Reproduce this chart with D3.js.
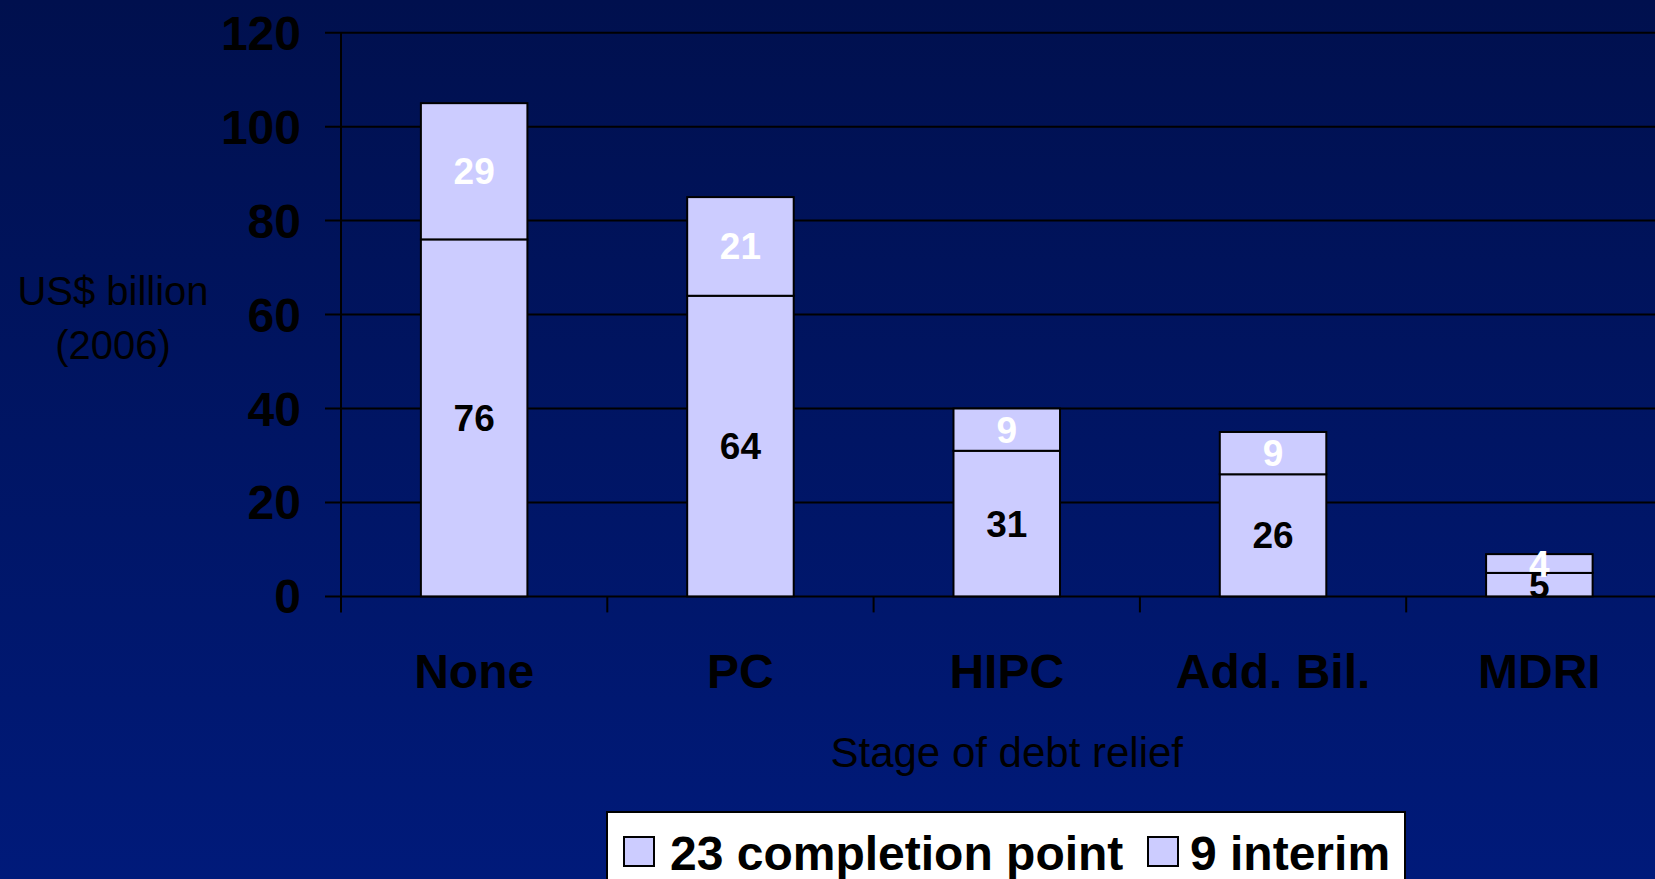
<!DOCTYPE html>
<html>
<head>
<meta charset="utf-8">
<script src="https://cdn.jsdelivr.net/npm/d3@7"></script>
<style>
  html, body { margin: 0; padding: 0; background: #001262; }
  svg { display: block; }
  text { font-family: "Liberation Sans", Arial, Helvetica, sans-serif; }
</style>
</head>
<body>
<svg id="chart" width="1655" height="879"></svg>
<script>
// Debt stock by stage of debt relief (US$ billion, 2006)
const categories = ["None", "PC", "HIPC", "Add. Bil.", "MDRI"];
const completionValues = [76, 64, 31, 26, 5];   // 23 completion point countries
const interimValues = [29, 21, 9, 9, 4];        // 9 interim countries
const yTicks = [0, 20, 40, 60, 80, 100, 120];
const seriesNames = ["23 completion point", "9 interim"];

const W = 1655, H = 879;
const svg = d3.select("#chart");

// background gradient
const defs = svg.append("defs");
const grad = defs.append("linearGradient")
  .attr("id", "bg").attr("x1", 0).attr("y1", 0).attr("x2", 0).attr("y2", 1);
grad.append("stop").attr("offset", "0%").attr("stop-color", "#00104e");
grad.append("stop").attr("offset", "100%").attr("stop-color", "#001a7a");
svg.append("rect").attr("width", W).attr("height", H).attr("fill", "url(#bg)");

const plotLeft = 341, plotRight = 1672.5, plotTop = 32.7, plotBottom = 596.4;

const x = d3.scaleBand()
  .domain(categories)
  .range([plotLeft, plotRight])
  .paddingInner(0.6)
  .paddingOuter(0.3);

const y = d3.scaleLinear()
  .domain([0, 120])
  .range([plotBottom, plotTop]);

const ink = "#000";

// horizontal gridlines with left tick marks
svg.append("g").selectAll("line")
  .data(yTicks)
  .join("line")
  .attr("x1", plotLeft - 16).attr("x2", W)
  .attr("y1", d => y(d)).attr("y2", d => y(d))
  .attr("stroke", ink).attr("stroke-width", 2);

// y tick labels
svg.append("g").selectAll("text")
  .data(yTicks)
  .join("text")
  .attr("x", 301)
  .attr("y", d => y(d) + 17)
  .attr("text-anchor", "end")
  .attr("font-size", 48)
  .attr("font-weight", "bold")
  .attr("fill", ink)
  .text(d => d);

// vertical axis line
svg.append("line")
  .attr("x1", plotLeft).attr("x2", plotLeft)
  .attr("y1", plotTop).attr("y2", plotBottom + 16)
  .attr("stroke", ink).attr("stroke-width", 2);

// category boundary ticks on the x axis
const step = x.step();
svg.append("g").selectAll("line")
  .data(d3.range(1, categories.length))
  .join("line")
  .attr("x1", i => plotLeft + i * step).attr("x2", i => plotLeft + i * step)
  .attr("y1", plotBottom).attr("y2", plotBottom + 16)
  .attr("stroke", ink).attr("stroke-width", 2);

// stacked bars
const rows = categories.map((c, i) => ({ cat: c, completion: completionValues[i], interim: interimValues[i] }));
const stack = d3.stack().keys(["completion", "interim"])(rows);
const barFill = "#ccccff";

const layers = svg.append("g").selectAll("g")
  .data(stack)
  .join("g");

layers.selectAll("rect")
  .data(d => d)
  .join("rect")
  .attr("x", d => x(d.data.cat))
  .attr("width", x.bandwidth())
  .attr("y", d => y(d[1]))
  .attr("height", d => y(d[0]) - y(d[1]))
  .attr("fill", barFill)
  .attr("stroke", ink)
  .attr("stroke-width", 2);

// value labels centred in each segment
const labelColors = ["#000000", "#ffffff"];
stack.forEach((layer, li) => {
  svg.append("g").selectAll("text")
    .data(layer)
    .join("text")
    .attr("x", d => x(d.data.cat) + x.bandwidth() / 2)
    .attr("y", d => y((d[0] + d[1]) / 2) + 13)
    .attr("text-anchor", "middle")
    .attr("font-size", 37)
    .attr("font-weight", "bold")
    .attr("fill", labelColors[li])
    .text(d => d[1] - d[0]);
});

// category labels
svg.append("g").selectAll("text")
  .data(categories)
  .join("text")
  .attr("x", d => x(d) + x.bandwidth() / 2)
  .attr("y", 688)
  .attr("text-anchor", "middle")
  .attr("font-size", 48)
  .attr("font-weight", "bold")
  .attr("fill", ink)
  .text(d => d);

// axis titles
const yTitle = svg.append("text")
  .attr("x", 113).attr("y", 305)
  .attr("text-anchor", "middle")
  .attr("font-size", 40)
  .attr("fill", ink);
yTitle.append("tspan").attr("x", 113).attr("y", 305).text("US$ billion");
yTitle.append("tspan").attr("x", 113).attr("y", 359).text("(2006)");

svg.append("text")
  .attr("x", (plotLeft + plotRight) / 2)
  .attr("y", 767)
  .attr("text-anchor", "middle")
  .attr("font-size", 42)
  .attr("fill", ink)
  .text("Stage of debt relief");

// legend
const legend = svg.append("g");
legend.append("rect")
  .attr("x", 607).attr("y", 812)
  .attr("width", 798).attr("height", 90)
  .attr("fill", "#ffffff")
  .attr("stroke", ink).attr("stroke-width", 2);

const legendItems = [
  { name: seriesNames[0], sx: 624, tx: 670 },
  { name: seriesNames[1], sx: 1148, tx: 1190 }
];
legendItems.forEach(item => {
  legend.append("rect")
    .attr("x", item.sx).attr("y", 837)
    .attr("width", 30).attr("height", 29)
    .attr("fill", barFill)
    .attr("stroke", ink).attr("stroke-width", 2);
  legend.append("text")
    .attr("x", item.tx).attr("y", 870)
    .attr("font-size", 48)
    .attr("font-weight", "bold")
    .attr("fill", ink)
    .text(item.name);
});
</script>
</body>
</html>
